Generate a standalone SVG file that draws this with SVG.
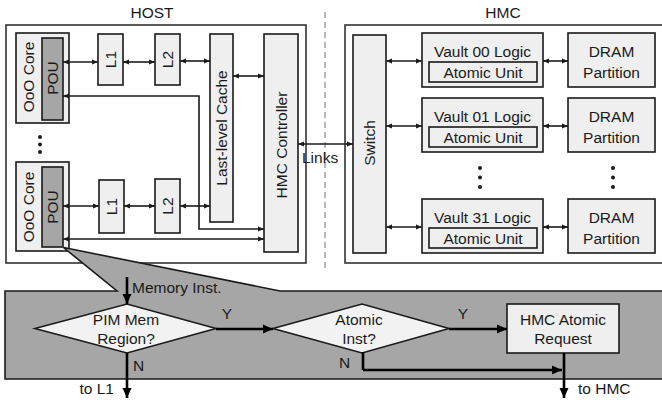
<svg xmlns="http://www.w3.org/2000/svg" width="662" height="400" viewBox="0 0 662 400">
<defs>
<style>
text{font-family:"Liberation Sans",Arial,sans-serif;fill:#1a1a1a;font-size:15.5px}
.mid{text-anchor:middle}
.box{fill:#efefef;stroke:#1a1a1a;stroke-width:1.6}
.dark{fill:#a6a6a6;stroke:#1a1a1a;stroke-width:1.6}
.frame{fill:#fff;stroke:#333;stroke-width:1.6}
.c{fill:none;stroke:#1a1a1a;stroke-width:1.6}
.bi{marker-start:url(#s);marker-end:url(#s)}
.f{fill:none;stroke:#000;stroke-width:2.6;marker-end:url(#b)}
.fl{fill:none;stroke:#000;stroke-width:2.6}
</style>
<marker id="s" viewBox="0 0 6 6" refX="6" refY="3" markerWidth="6" markerHeight="6" markerUnits="userSpaceOnUse" orient="auto-start-reverse"><path d="M0,0.4 L6,3 L0,5.6 z" fill="#1a1a1a"/></marker>
<marker id="b" viewBox="0 0 10 10" refX="10" refY="5" markerWidth="10" markerHeight="10" markerUnits="userSpaceOnUse" orient="auto"><path d="M0,0.5 L10,5 L0,9.5 z" fill="#000"/></marker>
</defs>
<rect width="662" height="400" fill="#fff"/>

<text class="mid" x="152" y="18" font-size="16">HOST</text>
<text class="mid" x="503" y="18" font-size="16">HMC</text>
<line x1="325" y1="12" x2="325" y2="268" stroke="#999" stroke-width="1.4" stroke-dasharray="6,4"/>

<g id="host"><rect class="frame" x="6" y="25" width="300" height="238"/></g>
<g id="hmc"><rect class="frame" x="345" y="25" width="320" height="238"/></g>

<g id="core0">
<rect class="box" x="16" y="33" width="53" height="90"/>
<rect class="dark" x="42" y="38" width="21" height="82"/>
<text class="mid" transform="translate(34,77) rotate(-90)" font-size="16">OoO Core</text>
<text class="mid" transform="translate(58,78) rotate(-90)" font-size="16">POU</text>
</g>
<g id="core1">
<rect class="box" x="16" y="162" width="53" height="89"/>
<rect class="dark" x="42" y="167" width="21" height="80"/>
<text class="mid" transform="translate(34,207) rotate(-90)" font-size="16">OoO Core</text>
<text class="mid" transform="translate(58,207) rotate(-90)" font-size="16">POU</text>
</g>
<g id="hostdots" fill="#1a1a1a"><circle cx="40" cy="137" r="2"/><circle cx="40" cy="144.5" r="2"/><circle cx="40" cy="152" r="2"/></g>

<g id="l1a"><rect class="box" x="98" y="34" width="25" height="51"/><text class="mid" transform="translate(116,59.5) rotate(-90)" font-size="16">L1</text></g>
<g id="l2a"><rect class="box" x="155" y="34" width="25" height="51"/><text class="mid" transform="translate(173,59.5) rotate(-90)" font-size="16">L2</text></g>
<g id="l1b"><rect class="box" x="99" y="180" width="25" height="53"/><text class="mid" transform="translate(117,206.5) rotate(-90)" font-size="16">L1</text></g>
<g id="l2b"><rect class="box" x="155" y="179" width="25" height="54"/><text class="mid" transform="translate(173,206) rotate(-90)" font-size="16">L2</text></g>
<g id="llc"><rect class="box" x="210" y="34" width="23" height="188"/><text class="mid" transform="translate(227,128) rotate(-90)">Last-level Cache</text></g>
<g id="hmcctrl"><rect class="box" x="264" y="34" width="34" height="218"/><text class="mid" transform="translate(287,145) rotate(-90)" font-size="16.5">HMC Controller</text></g>

<g id="switch"><rect class="box" x="353" y="35" width="33" height="218"/><text class="mid" transform="translate(375,143) rotate(-90)" font-size="16">Switch</text></g>

<g id="vault00"><rect class="box" x="422" y="33" width="121" height="54"/><rect class="box" x="429" y="62" width="108" height="20"/><text class="mid" x="482.5" y="57">Vault 00 Logic</text><text class="mid" x="483" y="78">Atomic Unit</text></g>
<g id="vault01"><rect class="box" x="422" y="98" width="121" height="54"/><rect class="box" x="429" y="127" width="108" height="20"/><text class="mid" x="482.5" y="122">Vault 01 Logic</text><text class="mid" x="483" y="143">Atomic Unit</text></g>
<g id="vault31"><rect class="box" x="422" y="199" width="121" height="54"/><rect class="box" x="429" y="228" width="108" height="20"/><text class="mid" x="482.5" y="223">Vault 31 Logic</text><text class="mid" x="483" y="244">Atomic Unit</text></g>
<g id="dram00"><rect class="box" x="568" y="33" width="87" height="54"/><text class="mid" x="611.5" y="57">DRAM</text><text class="mid" x="611.5" y="78">Partition</text></g>
<g id="dram01"><rect class="box" x="568" y="98" width="87" height="54"/><text class="mid" x="611.5" y="122">DRAM</text><text class="mid" x="611.5" y="143">Partition</text></g>
<g id="dram31"><rect class="box" x="568" y="199" width="87" height="54"/><text class="mid" x="611.5" y="223">DRAM</text><text class="mid" x="611.5" y="244">Partition</text></g>
<g id="vaultdots" fill="#1a1a1a"><circle cx="480" cy="168" r="2"/><circle cx="480" cy="177.5" r="2"/><circle cx="480" cy="187" r="2"/><circle cx="613" cy="168" r="2"/><circle cx="613" cy="177.5" r="2"/><circle cx="613" cy="187" r="2"/></g>

<g id="callout"><path d="M5,291 L117,291 L63.5,247.5 L280,291 L668,291 L668,379 L5,379 Z" fill="#a6a6a6" stroke="#1a1a1a" stroke-width="1.6" stroke-linejoin="miter"/></g>

<g id="d1"><path d="M35,328.5 L127,304 L216,328.5 L127,353 Z" fill="#f2f2f2" stroke="#1a1a1a" stroke-width="1.6"/><text class="mid" x="126" y="325" font-size="15">PIM Mem</text><text class="mid" x="126" y="344" font-size="15">Region?</text></g>
<g id="d2"><path d="M273,328.5 L362,304 L449,328.5 L362,353 Z" fill="#f2f2f2" stroke="#1a1a1a" stroke-width="1.6"/><text class="mid" x="359" y="325" font-size="15">Atomic</text><text class="mid" x="359" y="344" font-size="15">Inst?</text></g>
<g id="req"><rect class="box" x="507" y="304" width="112" height="49"/><text class="mid" x="563" y="325" font-size="15">HMC Atomic</text><text class="mid" x="563" y="344" font-size="15">Request</text></g>

<g id="connectors">
<path class="c bi" d="M63,62 H98"/>
<path class="c bi" d="M123,62 H155"/>
<path class="c bi" d="M180,61 H210"/>
<path class="c bi" d="M233,76 H264"/>
<path class="c bi" d="M63,96 H199 V229 H264"/>
<path class="c bi" d="M63,206 H99"/>
<path class="c bi" d="M124,206 H155"/>
<path class="c bi" d="M180,206 H210"/>
<path class="c bi" d="M63,239 H264"/>
<path class="c bi" d="M298,144 H353"/>
<path class="c bi" d="M386,61 H422"/>
<path class="c bi" d="M386,126 H422"/>
<path class="c bi" d="M386,227 H422"/>
<path class="c bi" d="M543,61 H568"/>
<path class="c bi" d="M543,126 H568"/>
<path class="c bi" d="M543,227 H568"/>
<path class="f" d="M127,277 V304"/>
<path class="f" d="M216,329 H273"/>
<path class="f" d="M449,329 H507"/>
<path class="f" d="M127,353 V398"/>
<path class="fl" d="M363,352 V370"/>
<path class="f" d="M363,370 H562"/>
<path class="f" d="M564,353 V398"/>
</g>

<text x="302" y="163" font-size="16">Links</text>
<text x="132" y="293" font-size="16">Memory Inst.</text>
<text class="mid" x="227" y="319" font-size="15">Y</text>
<text class="mid" x="463" y="319" font-size="15">Y</text>
<text x="133" y="371" font-size="15">N</text>
<text x="339" y="368" font-size="15">N</text>
<text x="114" y="394" font-size="16" text-anchor="end">to L1</text>
<text x="578" y="394" font-size="16">to HMC</text>
</svg>
